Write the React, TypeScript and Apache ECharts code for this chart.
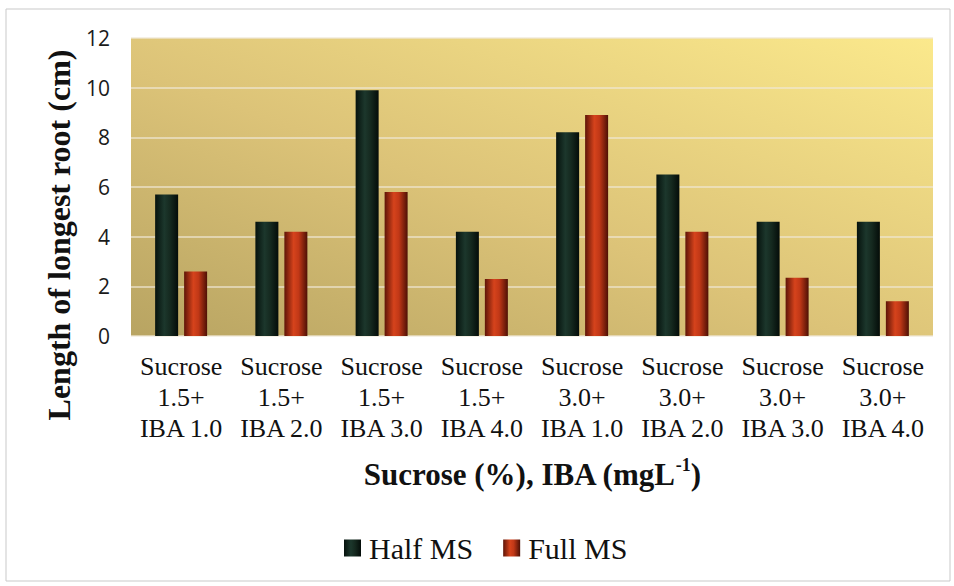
import React, { useEffect, useRef } from "react";
import * as echarts from "echarts";

const categories = [
  "Sucrose\n1.5+\nIBA 1.0",
  "Sucrose\n1.5+\nIBA 2.0",
  "Sucrose\n1.5+\nIBA 3.0",
  "Sucrose\n1.5+\nIBA 4.0",
  "Sucrose\n3.0+\nIBA 1.0",
  "Sucrose\n3.0+\nIBA 2.0",
  "Sucrose\n3.0+\nIBA 3.0",
  "Sucrose\n3.0+\nIBA 4.0",
];
const halfMS = [5.7, 4.6, 9.9, 4.2, 8.2, 6.5, 4.6, 4.6];
const fullMS = [2.6, 4.2, 5.8, 2.3, 8.9, 4.2, 2.35, 1.4];
const seriesNames = ["Half MS", "Full MS"];
const yTitle = "Length of longest root (cm)";

export default function App() {
  const ref = useRef<HTMLDivElement>(null);
  useEffect(() => {
    if (!ref.current) return;
    const chart = echarts.init(ref.current, undefined, { renderer: "svg" });
    const serif = "'Liberation Serif', 'Times New Roman', serif";
    const green = new echarts.graphic.LinearGradient(0, 0, 1, 0, [
      { offset: 0, color: "#06120d" },
      { offset: 0.4, color: "#1c372c" },
      { offset: 0.65, color: "#15291f" },
      { offset: 1, color: "#040c09" },
    ]);
    const red = new echarts.graphic.LinearGradient(0, 0, 1, 0, [
      { offset: 0, color: "#5e1407" },
      { offset: 0.4, color: "#d6431c" },
      { offset: 0.62, color: "#c13817" },
      { offset: 1, color: "#4e1005" },
    ]);
    chart.setOption({
      animation: false,
      backgroundColor: "#ffffff",
      grid: {
        left: 131,
        right: 21,
        top: 38,
        bottom: 250,
        containLabel: false,
        outerBoundsMode: "none",
        show: true,
        borderWidth: 0,
        backgroundColor: new echarts.graphic.LinearGradient(0, 1, 1, 0, [
          { offset: 0, color: "#b8a462" },
          { offset: 0.45, color: "#dcc378" },
          { offset: 1, color: "#fbe98c" },
        ]),
      },
      legend: {
        data: seriesNames,
        left: 344,
        top: 533,
        padding: 0,
        itemWidth: 17,
        itemHeight: 17,
        itemGap: 30,
        icon: "rect",
        textStyle: {
          fontFamily: serif,
          fontSize: 30,
          lineHeight: 30,
          color: "#111",
          padding: [0, 0, 0, 3],
        },
      },
      xAxis: {
        type: "category",
        data: categories,
        axisTick: { show: false },
        axisLine: { show: false },
        axisLabel: {
          interval: 0,
          margin: 15,
          fontFamily: serif,
          fontSize: 26,
          lineHeight: 31,
          color: "#111",
        },
        name: "{b|Sucrose (%), IBA (mgL}{s|-1}{b|)}",
        nameLocation: "middle",
        nameGap: 120,
        nameTextStyle: {
          rich: {
            b: {
              fontFamily: serif,
              fontSize: 31,
              fontWeight: "bold",
              lineHeight: 34,
              color: "#111",
              verticalAlign: "bottom",
            },
            s: {
              fontFamily: serif,
              fontSize: 18,
              fontWeight: "bold",
              lineHeight: 34,
              color: "#111",
              verticalAlign: "top",
              padding: [0, 0, 14, 0],
            },
          },
        },
      },
      yAxis: {
        type: "value",
        min: 0,
        max: 12,
        interval: 2,
        name: yTitle,
        nameLocation: "middle",
        nameGap: 56,
        nameMoveOverlap: false,
        nameTextStyle: {
          fontFamily: serif,
          fontSize: 32,
          fontWeight: "bold",
          lineHeight: 32,
          color: "#111",
          padding: [0, 96, 0, 0],
        },
        axisLine: { show: false },
        axisTick: { show: false },
        axisLabel: {
          margin: 21,
          fontFamily: "'Open Sans', sans-serif",
          fontSize: 21,
          color: "#1a1a1a",
        },
        splitLine: {
          lineStyle: { color: "rgba(238,230,214,0.85)", width: 1.5 },
        },
      },
      graphic: [
        {
          type: "rect",
          shape: { x: 6, y: 9, width: 944, height: 572 },
          style: { fill: "none", stroke: "#c9c9c9", lineWidth: 1 },
          silent: true,
        },
      ],
      series: [
        {
          name: seriesNames[0],
          type: "bar",
          data: halfMS,
          barWidth: 23,
          barGap: "26%",
          itemStyle: { color: green },
        },
        {
          name: seriesNames[1],
          type: "bar",
          data: fullMS,
          barWidth: 23,
          itemStyle: { color: red },
        },
      ],
    });
    return () => chart.dispose();
  }, []);
  return (
    <div
      ref={ref}
      style={{ position: "absolute", left: 0, top: 0, width: 954, height: 586 }}
    />
  );
}
